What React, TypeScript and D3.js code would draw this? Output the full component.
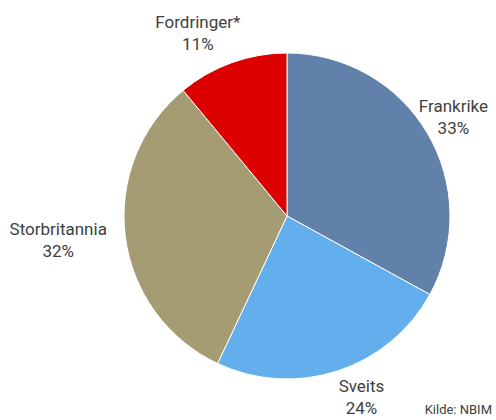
import React, { useEffect, useRef } from 'react';
import * as d3 from 'd3';

const categories = ['Frankrike', 'Sveits', 'Storbritannia', 'Fordringer*'];
const shares = [33, 24, 32, 11];
const colors = ['#6281aa', '#63aeec', '#a69c73', '#dd0000'];
const source = 'Kilde: NBIM';

export default function App() {
  const svgRef = useRef<SVGSVGElement>(null);

  const width = 496;
  const height = 420;
  const cx = 287;
  const cy = 216;
  const radius = 163;

  useEffect(() => {
    const svg = d3.select(svgRef.current);
    svg.selectAll('*').remove();

    const data = categories.map((c, i) => ({ name: c, value: shares[i], color: colors[i] }));

    const pie = d3.pie<any>().value(d => d.value).sort(null);
    const arc = d3.arc<any>().innerRadius(0).outerRadius(radius);
    const arcs = pie(data);

    const g = svg.append('g').attr('transform', `translate(${cx},${cy})`);

    g.selectAll('path')
      .data(arcs)
      .join('path')
      .attr('d', arc)
      .attr('fill', d => d.data.color)
      .attr('stroke', '#fff')
      .attr('stroke-width', 1);

    // labels outside each slice, shifted sideways by part of their width, kept inside the frame
    const labels = g.selectAll('g.lbl')
      .data(arcs)
      .join('g')
      .attr('class', 'lbl');

    labels.each(function (d) {
      const lg = d3.select(this);
      const t = lg.append('text')
        .attr('text-anchor', 'middle')
        .attr('font-family', 'Roboto, "Liberation Sans", sans-serif')
        .attr('font-size', 17)
        .attr('fill', '#404040');
      t.append('tspan').attr('x', 0).attr('y', -5).text(d.data.name);
      t.append('tspan').attr('x', 0).attr('y', 17).text(`${d.data.value}%`);
      const box = (t.node() as SVGTextElement).getBBox();
      const mid = (d.startAngle + d.endAngle) / 2;
      const s = Math.sin(mid);
      const c = Math.cos(mid);
      let x = 210 * s + 0.42 * (box.width / 2) * Math.sign(s);
      let y = -195 * c;
      x = Math.min(x, width - cx - box.width / 2 - 8);
      x = Math.max(x, -cx + box.width / 2 + 8);
      y = Math.min(y, height - cy - box.height / 2 - 2);
      y = Math.max(y, -cy + box.height / 2 + 2);
      const boxMidY = box.y + box.height / 2;
      lg.attr('transform', `translate(${x},${y - boxMidY})`);
    });

    svg.append('text')
      .attr('x', 492)
      .attr('y', 414)
      .attr('text-anchor', 'end')
      .attr('font-family', 'Roboto, "Liberation Sans", sans-serif')
      .attr('font-size', 13)
      .attr('fill', '#404040')
      .text(source);
  });

  return (
    <svg
      ref={svgRef}
      width={width}
      height={height}
      style={{ position: 'absolute', left: 0, top: 0, background: '#fff' }}
    />
  );
}
